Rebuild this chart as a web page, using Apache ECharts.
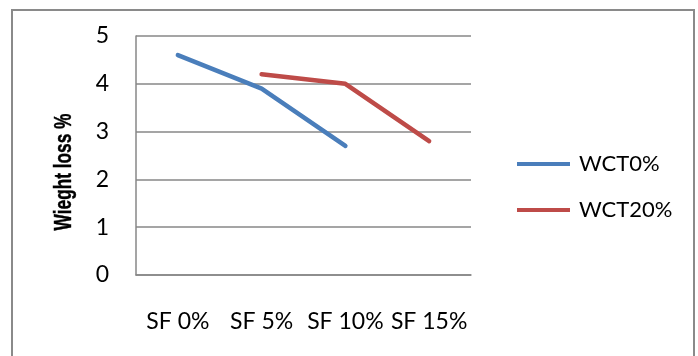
<!DOCTYPE html>
<html>
<head>
<meta charset="utf-8">
<script src="https://cdn.jsdelivr.net/npm/echarts@6/dist/echarts.min.js"></script>
<style>
  html, body { margin: 0; padding: 0; background: #fff; }
  #chart { width: 698px; height: 356px; }
</style>
</head>
<body>
<div id="chart"></div>
<script>
// Weight loss by silica fume content, for two WCT levels
const categories = ['SF 0%', 'SF 5%', 'SF 10%', 'SF 15%'];
const wct0 = [4.6, 3.9, 2.7, null];
const wct20 = [null, 4.2, 4.0, 2.8];
const yTicks = [0, 1, 2, 3, 4, 5];

const FONT = 'Lato';
const GRID = '#878787';

const chart = echarts.init(document.getElementById('chart'), null, { renderer: 'canvas' });

chart.setOption({
  animation: false,
  backgroundColor: '#fff',
  grid: { left: 136, right: 227, top: 36, bottom: 81 },
  graphic: [
    {
      type: 'rect',
      shape: { x: 12, y: 10, width: 682, height: 370 },
      style: { fill: 'none', stroke: '#8a8a8a', lineWidth: 2 }
    },
    {
      // condensed bold axis title, reading bottom to top
      type: 'text',
      x: 65, y: 172,
      rotation: Math.PI / 2,
      scaleX: 0.75,
      style: {
        text: 'Wieght loss %',
        fontFamily: 'Liberation Sans',
        fontWeight: 'bold',
        fontSize: 23,
        fill: '#000',
        stroke: '#000',
        lineWidth: 0.4,
        align: 'center',
        verticalAlign: 'middle'
      }
    }
  ],
  legend: {
    orient: 'vertical',
    left: 512,
    top: 148,
    itemWidth: 53,
    itemHeight: 4,
    itemGap: 24,
    icon: 'rect',
    textStyle: { fontFamily: FONT, fontSize: 22, color: '#000', padding: [0, 0, 0, 4] },
    data: ['WCT0%', 'WCT20%']
  },
  xAxis: {
    type: 'category',
    data: categories,
    boundaryGap: true,
    axisTick: { show: false },
    axisLine: { show: true, lineStyle: { color: GRID, width: 1.5 } },
    axisLabel: { fontFamily: FONT, fontSize: 23, color: '#000', margin: 35, interval: 0 }
  },
  yAxis: {
    type: 'value',
    min: yTicks[0],
    max: yTicks[yTicks.length - 1],
    interval: 1,
    axisTick: { show: false },
    axisLine: { show: true, lineStyle: { color: GRID, width: 1.5 } },
    splitLine: { lineStyle: { color: GRID, width: 1.5 } },
    axisLabel: { fontFamily: FONT, fontSize: 23, color: '#000', margin: 27 }
  },
  series: [
    {
      name: 'WCT0%',
      type: 'line',
      data: wct0,
      showSymbol: false,
      symbol: 'none',
      color: '#4a7ebb',
      lineStyle: { width: 4.5, color: '#4a7ebb', cap: 'round', join: 'round' }
    },
    {
      name: 'WCT20%',
      type: 'line',
      data: wct20,
      showSymbol: false,
      symbol: 'none',
      color: '#be4b48',
      lineStyle: { width: 4.5, color: '#be4b48', cap: 'round', join: 'round' }
    }
  ]
});
</script>
</body>
</html>
